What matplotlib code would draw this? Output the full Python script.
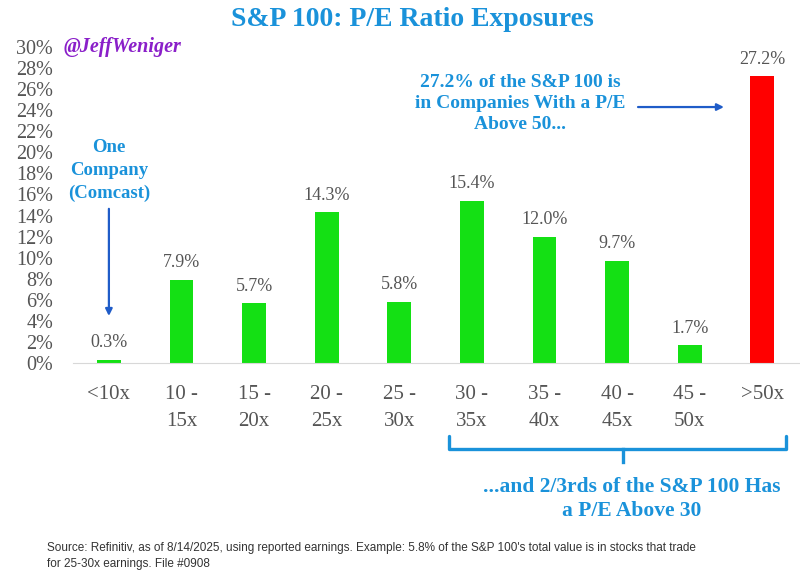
import matplotlib.pyplot as plt
import numpy as np

categories = ["<10x", "10 -\n15x", "15 -\n20x", "20 -\n25x", "25 -\n30x",
              "30 -\n35x", "35 -\n40x", "40 -\n45x", "45 -\n50x", ">50x"]
values = [0.3, 7.9, 5.7, 14.3, 5.8, 15.4, 12.0, 9.7, 1.7, 27.2]
yticks = list(range(0, 31, 2))

GREEN = "#14e014"
RED = "#ff0000"
BLUE = "#1a92da"
ARROW = "#1f5cc8"
GRAY = "#555555"
SERIF = "Liberation Serif"

fig = plt.figure(figsize=(8, 5.83), dpi=100)
ax = fig.add_axes([72.6 / 800, 220 / 583, 726 / 800, 316 / 583])

x = np.arange(len(categories))
colors = [GREEN] * (len(values) - 1) + [RED]
ax.bar(x, values, width=0.33, color=colors, zorder=2)
for xi, v in zip(x, values):
    ax.text(xi, v + 0.8, f"{v:.1f}%", ha="center", va="bottom",
            fontsize=13, color=GRAY, family=SERIF)

ax.set_xlim(-0.5, len(categories) - 0.5)
ax.set_ylim(0, 30)
ax.set_yticks(yticks)
ax.set_yticklabels([f"{t}%" for t in yticks], family=SERIF, fontsize=14.5, color=GRAY)
ax.set_xticks(x)
ax.set_xticklabels(categories, family=SERIF, fontsize=15, color=GRAY,
                   linespacing=1.55, va="top")
ax.tick_params(length=0, axis="y", pad=14)
ax.tick_params(length=0, axis="x", pad=16)
for side in ["top", "right", "left"]:
    ax.spines[side].set_visible(False)
ax.spines["bottom"].set_color("#d8d8d8")

fig.text(0.515, 0.967, "S&P 100: P/E Ratio Exposures", ha="center", va="center",
         fontsize=20, fontweight="bold", color=BLUE, family=SERIF)
fig.text(64 / 800, 1 - 47 / 583, "@JeffWeniger", ha="left", va="center",
         fontsize=14.5, fontweight="bold", style="italic", color="#8a1fc9", family=SERIF)

# left callout
ax.text(0, 18.3, "One\nCompany\n(Comcast)", ha="center", va="center",
        fontsize=13.5, fontweight="bold", color=BLUE, family=SERIF, linespacing=1.45)
ax.annotate("", xy=(0, 4.2), xytext=(0, 14.9),
            arrowprops=dict(arrowstyle="-|>", color=ARROW, lw=1.6, mutation_scale=10))

# right callout
ax.text(5.66, 24.6, "27.2% of the S&P 100 is\nin Companies With a P/E\nAbove 50...",
        ha="center", va="center", fontsize=14, fontweight="bold", color=BLUE,
        family=SERIF, linespacing=1.3)
ax.annotate("", xy=(8.51, 24.3), xytext=(7.25, 24.3),
            arrowprops=dict(arrowstyle="-|>", color=ARROW, lw=1.6, mutation_scale=10))

# bracket under 30x+
bx0, bx1, bmid = 4.69, 9.33, 7.08
ax.plot([bx0, bx0, bx1, bx1], [-6.9, -8.2, -8.2, -6.9], color=BLUE, lw=2.4,
        clip_on=False, solid_joinstyle="round", solid_capstyle="round")
ax.plot([bmid, bmid], [-8.2, -9.4], color=BLUE, lw=2.4, clip_on=False)
ax.text(7.2, -12.9, "...and 2/3rds of the S&P 100 Has\na P/E Above 30", ha="center",
        va="center", fontsize=15.5, fontweight="bold", color=BLUE, family=SERIF,
        linespacing=1.3)

fig.text(47 / 800, 1 - 556 / 583,
         "Source: Refinitiv, as of 8/14/2025, using reported earnings. Example: 5.8% of the S&P 100's "
         "total value is in stocks that trade\nfor 25-30x earnings. File #0908",
         ha="left", va="center", fontsize=8.5, color="#333333", family="Liberation Sans",
         linespacing=1.55)

fig.savefig("out.png", dpi=100)
